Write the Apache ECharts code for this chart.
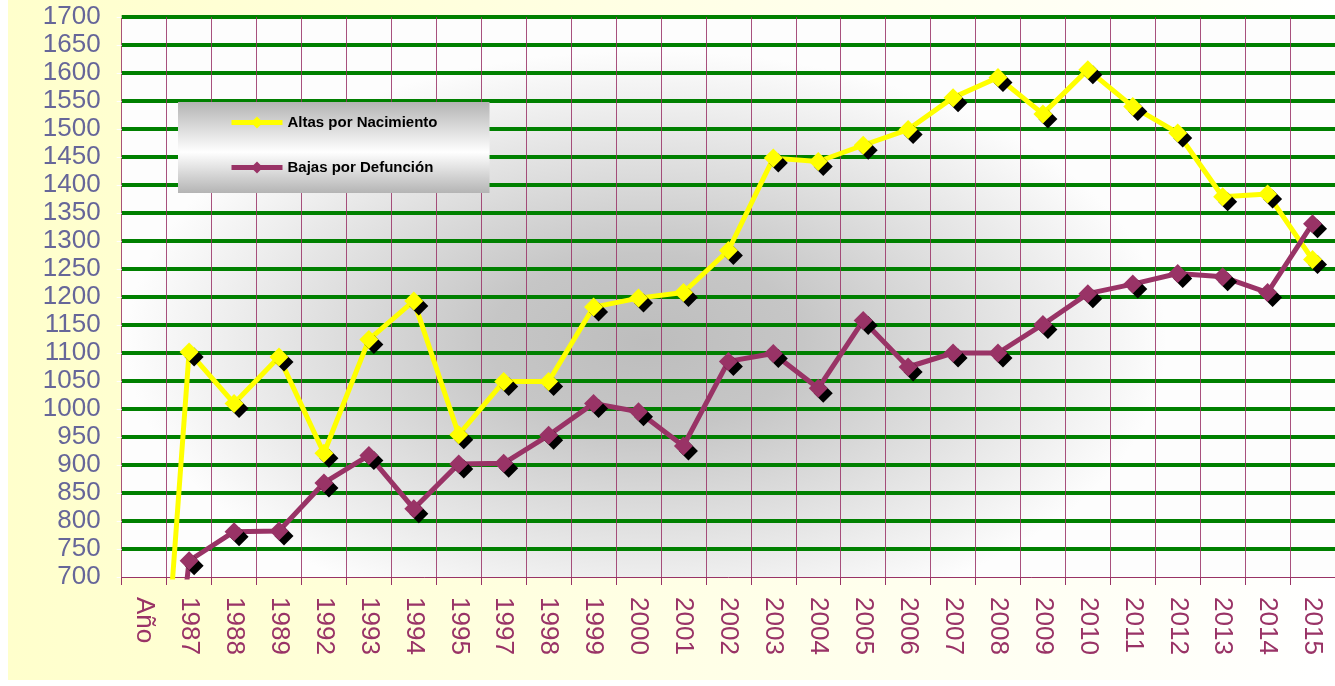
<!DOCTYPE html>
<html>
<head>
<meta charset="utf-8">
<title>Altas y Bajas</title>
<script src="https://cdn.jsdelivr.net/npm/echarts@6/dist/echarts.min.js"></script>
<style>
  html, body { margin: 0; padding: 0; background: #fff; }
  #chart { width: 1335px; height: 686px; }
</style>
</head>
<body>
<div id="chart"></div>
<script>
// categorias del eje x
var categories = ['Año', '1987', '1988', '1989', '1992', '1993', '1994', '1995', '1997', '1998',
  '1999', '2000', '2001', '2002', '2003', '2004', '2005', '2006', '2007', '2008',
  '2009', '2010', '2011', '2012', '2013', '2014', '2015']

// Altas por Nacimiento
var altas = [0, 1102, 1010, 1093, 921, 1124, 1193, 954, 1049, 1049,
  1182, 1198, 1208, 1283, 1448, 1442, 1471, 1499, 1556, 1592,
  1527, 1606, 1540, 1493, 1379, 1384, 1267]

// Bajas por Defuncion
var bajas = [0, 729, 781, 782, 868, 917, 822, 902, 903, 953,
  1010, 995, 934, 1085, 1099, 1037, 1158, 1075, 1100, 1100,
  1151, 1206, 1223, 1242, 1236, 1208, 1331]

var legendNames = ['Altas por Nacimiento', 'Bajas por Defunción']
var legendColor = ['#ffff00', '#993366']

// eje y: 700 .. 1700 cada 50
var yMin = 700
var yMax = 1700
var yStep = 50

var FONT = '"Liberation Sans", Arial, sans-serif'

// area del grafico (el borde derecho sale un poco del lienzo, como en el original)
var plot = { left: 121.7, top: 17, right: -8, width: 1221.3, height: 560 }
var ellipse = 0.56 // radio vertical / horizontal del degradado

var chart = echarts.init(document.getElementById('chart'), null, { renderer: 'canvas' })

var series = []
var data = [altas, bajas]
for (var k in legendNames) {
  series.push({
    name: legendNames[k],
    type: 'line',
    data: data[k],
    symbol: 'diamond',
    symbolSize: 19,
    showAllSymbol: true,
    lineStyle: { color: legendColor[k], width: 5 },
    itemStyle: {
      color: legendColor[k],
      shadowColor: '#000',
      shadowBlur: 0,
      shadowOffsetX: 5,
      shadowOffsetY: 5
    },
    emphasis: { disabled: true },
    z: 3 + Number(k)
  })
}

var option = {
  animation: false,
  backgroundColor: '#ffffff',
  textStyle: { fontFamily: FONT },
  graphic: [
    { // fondo amarillo
      type: 'rect',
      z: -20,
      silent: true,
      shape: { x: 8, y: 0, width: 1327, height: 680 },
      style: {
        fill: {
          type: 'linear', x: 0, y: 0, x2: 1, y2: 0,
          colorStops: [{ offset: 0, color: '#ffffcc' }, { offset: 1, color: '#ffffff' }]
        }
      }
    },
    { // degradado gris del area de trazado
      type: 'rect',
      z: -10,
      silent: true,
      x: plot.left,
      y: plot.top,
      scaleY: ellipse,
      shape: { x: 0, y: 0, width: plot.width, height: plot.height / ellipse },
      style: {
        fill: {
          type: 'radial', x: 0.43, y: 0.58, r: 0.52,
          colorStops: [
            { offset: 0, color: '#bdbdbd' },
            { offset: 0.3, color: '#c6c6c6' },
            { offset: 1, color: '#fdfdfd' }
          ]
        }
      }
    }
  ],
  legend: {
    data: legendNames,
    orient: 'vertical',
    left: 178,
    top: 102,
    padding: [13, 52, 18, 51],
    itemWidth: 51,
    itemHeight: 15,
    itemGap: 30,
    backgroundColor: {
      type: 'linear', x: 0, y: 0, x2: 0, y2: 1,
      colorStops: [
        { offset: 0, color: '#b4b4b4' },
        { offset: 0.55, color: '#ffffff' },
        { offset: 1, color: '#b4b4b4' }
      ]
    },
    lineStyle: { width: 5 },
    itemStyle: { shadowColor: 'rgba(0,0,0,0)', shadowBlur: 0, shadowOffsetX: 0, shadowOffsetY: 0 },
    textStyle: { fontFamily: FONT, fontSize: 15, fontWeight: 'bold', color: '#000' },
    selectedMode: false
  },
  grid: {
    left: plot.left,
    top: plot.top,
    right: plot.right,
    height: plot.height,
    containLabel: false
  },
  xAxis: {
    type: 'category',
    data: categories,
    boundaryGap: true,
    axisLine: { lineStyle: { color: '#993366', width: 1 } },
    axisTick: { show: true, interval: 0, length: 8, lineStyle: { color: '#993366' } },
    splitLine: { show: true, interval: 0, lineStyle: { color: '#993366', width: 1, opacity: 0.85 } },
    axisLabel: {
      interval: 0,
      rotate: -90,
      margin: 20,
      color: '#993366',
      fontSize: 26,
      fontFamily: FONT
    }
  },
  yAxis: {
    type: 'value',
    min: yMin,
    max: yMax,
    interval: yStep,
    axisLine: { show: false },
    axisTick: { show: true, length: 5, lineStyle: { color: '#ffffff' } },
    splitLine: { show: true, showMinLine: false, lineStyle: { color: '#008000', width: 4 } },
    axisLabel: {
      margin: 21,
      color: '#666699',
      fontSize: 26,
      fontFamily: FONT,
      formatter: function(v) { return String(v) }
    }
  },
  series: series
}

chart.setOption(option)
</script>
</body>
</html>
